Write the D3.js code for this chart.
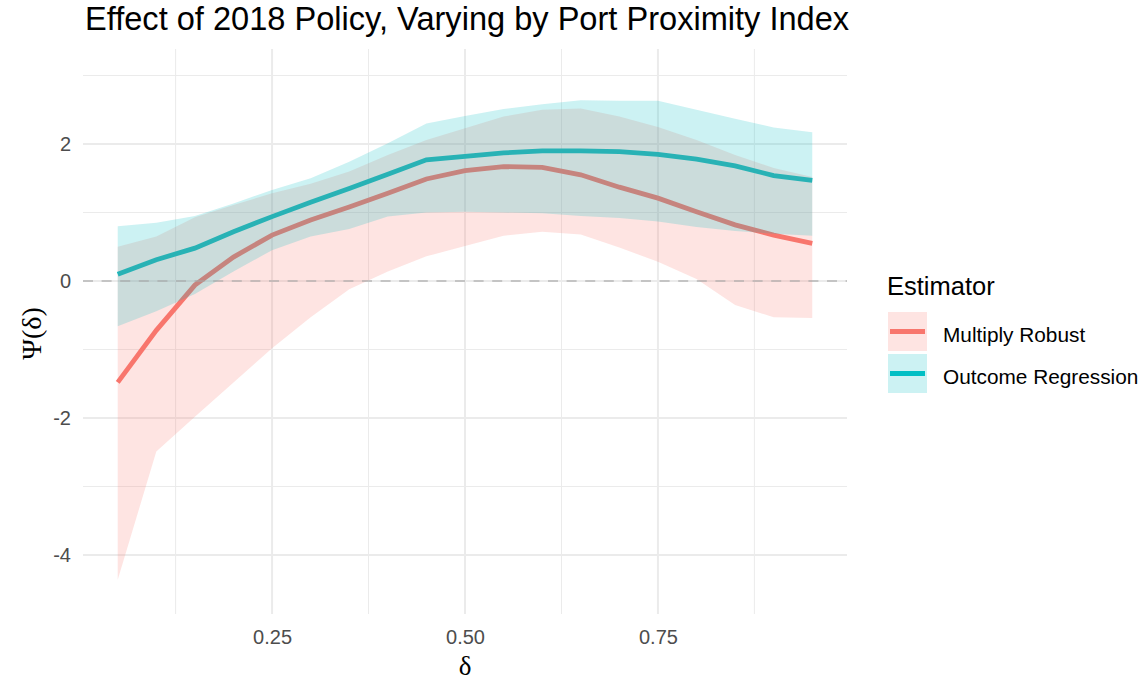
<!DOCTYPE html>
<meta charset="utf-8">
<style>
  body { margin: 0; background: #fff; }
  text { font-family: "Liberation Sans", Arial, sans-serif; }
</style>
<body>
<div id="my_dataviz"></div>
<script src="https://d3js.org/d3.v7.min.js"></script>
<script>

// values
var delta = [0.05, 0.10, 0.15, 0.20, 0.25, 0.30, 0.35, 0.40, 0.45, 0.50,
             0.55, 0.60, 0.65, 0.70, 0.75, 0.80, 0.85, 0.90, 0.95];

var mrEst = [-1.48, -0.72, -0.06, 0.35, 0.67, 0.89, 1.08, 1.28, 1.49, 1.61,
             1.67, 1.66, 1.55, 1.37, 1.21, 1.01, 0.82, 0.67, 0.55];
var mrLo  = [-4.36, -2.49, -1.98, -1.48, -0.98, -0.53, -0.12, 0.14, 0.36, 0.51,
             0.66, 0.72, 0.68, 0.49, 0.28, 0.03, -0.35, -0.53, -0.54];
var mrHi  = [0.50, 0.65, 0.93, 1.11, 1.28, 1.42, 1.60, 1.84, 2.06, 2.23,
             2.40, 2.50, 2.52, 2.40, 2.25, 2.06, 1.84, 1.65, 1.52];

var orEst = [0.10, 0.31, 0.48, 0.72, 0.94, 1.15, 1.35, 1.56, 1.77, 1.82,
             1.87, 1.90, 1.90, 1.89, 1.85, 1.78, 1.68, 1.54, 1.47];
var orLo  = [-0.66, -0.44, -0.19, 0.14, 0.45, 0.65, 0.76, 0.94, 1.00, 1.01,
             1.00, 0.99, 0.95, 0.92, 0.87, 0.79, 0.73, 0.69, 0.66];
var orHi  = [0.80, 0.85, 0.95, 1.13, 1.33, 1.50, 1.74, 2.01, 2.30, 2.41,
             2.51, 2.58, 2.64, 2.63, 2.63, 2.50, 2.37, 2.24, 2.17];

var estimators = ["Multiply Robust", "Outcome Regression"];
var colors = ["#F8766D", "#00BFC4"];

var xMajor = [0.25, 0.50, 0.75];
var xMinor = [0.125, 0.375, 0.625, 0.875];
var yMajor = [-4, -2, 0, 2];
var yMinor = [-3, -1, 1, 3];

// size of the page and the panel
var W = 1147, H = 680;
var panel = {left: 83, right: 847, top: 49, bottom: 614};

var svg = d3.select("#my_dataviz")
  .append("svg")
    .attr("width", W)
    .attr("height", H);

var x = d3.scaleLinear()
  .domain([0.005, 0.995])
  .range([panel.left, panel.right]);

var y = d3.scaleLinear()
  .domain([-4.861, 3.387])
  .range([panel.bottom, panel.top]);

// grid
var grid = svg.append("g");
grid.selectAll(".ymin").data(yMinor).enter().append("line")
  .attr("x1", panel.left).attr("x2", panel.right)
  .attr("y1", function(d) { return y(d); }).attr("y2", function(d) { return y(d); })
  .attr("stroke", "#ebebeb").attr("stroke-width", 1);
grid.selectAll(".xmin").data(xMinor).enter().append("line")
  .attr("y1", panel.top).attr("y2", panel.bottom)
  .attr("x1", function(d) { return x(d); }).attr("x2", function(d) { return x(d); })
  .attr("stroke", "#ebebeb").attr("stroke-width", 1);
grid.selectAll(".ymaj").data(yMajor).enter().append("line")
  .attr("x1", panel.left).attr("x2", panel.right)
  .attr("y1", function(d) { return y(d); }).attr("y2", function(d) { return y(d); })
  .attr("stroke", "#ebebeb").attr("stroke-width", 2);
grid.selectAll(".xmaj").data(xMajor).enter().append("line")
  .attr("y1", panel.top).attr("y2", panel.bottom)
  .attr("x1", function(d) { return x(d); }).attr("x2", function(d) { return x(d); })
  .attr("stroke", "#ebebeb").attr("stroke-width", 2);

// axes (text only, theme_minimal style)
svg.append("g")
  .attr("transform", "translate(0," + panel.bottom + ")")
  .call(d3.axisBottom(x).tickValues(xMajor).tickFormat(d3.format(".2f")).tickSize(0).tickPadding(16));
svg.append("g")
  .attr("transform", "translate(" + (panel.left - 10) + ",0)")
  .call(d3.axisLeft(y).tickValues(yMajor).tickFormat(function(d) { return d; }).tickSize(0).tickPadding(2));
svg.selectAll(".domain").remove();
svg.selectAll(".tick text")
  .style("font-family", "'Liberation Sans', Arial, sans-serif")
  .style("font-size", "20px")
  .attr("fill", "#4d4d4d");

var series = [
  {est: mrEst, lo: mrLo, hi: mrHi},
  {est: orEst, lo: orLo, hi: orHi}
];

var line = d3.line()
  .x(function(d, i) { return x(delta[i]); })
  .y(function(d) { return y(d); });

var area = d3.area()
  .x(function(d, i) { return x(delta[i]); })
  .y0(function(d) { return y(d[0]); })
  .y1(function(d) { return y(d[1]); });

// lines first, ribbons on top of them
series.forEach(function(s, k) {
  svg.append("path")
    .attr("d", line(s.est))
    .attr("fill", "none")
    .attr("stroke", colors[k])
    .attr("stroke-width", 4.8);
});
series.forEach(function(s, k) {
  svg.append("path")
    .attr("d", area(s.lo.map(function(v, i) { return [v, s.hi[i]]; })))
    .attr("fill", colors[k])
    .attr("fill-opacity", 0.2);
});

// zero reference
svg.append("line")
  .attr("x1", panel.left).attr("x2", panel.right)
  .attr("y1", y(0)).attr("y2", y(0))
  .attr("stroke", "#a6a6a6")
  .attr("stroke-opacity", 0.75)
  .attr("stroke-width", 1.6)
  .attr("stroke-dasharray", "10,8.6");

// titles
svg.append("text")
  .attr("x", 85).attr("y", 29.5)
  .style("font-size", "32.6px")
  .attr("fill", "#000")
  .text("Effect of 2018 Policy, Varying by Port Proximity Index");

svg.append("text")
  .attr("x", (panel.left + panel.right) / 2).attr("y", 675)
  .attr("text-anchor", "middle")
  .style("font-family", "'Liberation Serif', 'Times New Roman', serif")
  .style("font-size", "27px")
  .text("δ");

svg.append("text")
  .attr("transform", "translate(41," + ((panel.top + panel.bottom) / 2 + 2) + ") rotate(-90)")
  .attr("text-anchor", "middle")
  .style("font-family", "'Liberation Serif', 'Times New Roman', serif")
  .style("font-size", "28px")
  .text("Ψ(δ)");

// legend
var legend = svg.append("g");
legend.append("text")
  .attr("x", 887).attr("y", 295)
  .style("font-size", "25.5px")
  .text("Estimator");

estimators.forEach(function(name, k) {
  var top = 312 + k * 42;
  legend.append("rect")
    .attr("x", 888).attr("y", top)
    .attr("width", 39).attr("height", 39)
    .attr("fill", colors[k]).attr("fill-opacity", 0.2);
  legend.append("line")
    .attr("x1", 890).attr("x2", 925)
    .attr("y1", top + 19.5).attr("y2", top + 19.5)
    .attr("stroke", colors[k]).attr("stroke-width", 5);
  legend.append("text")
    .attr("x", 943).attr("y", top + 29.5)
    .style("font-size", "20.8px")
    .text(name);
});

</script>
</body>
